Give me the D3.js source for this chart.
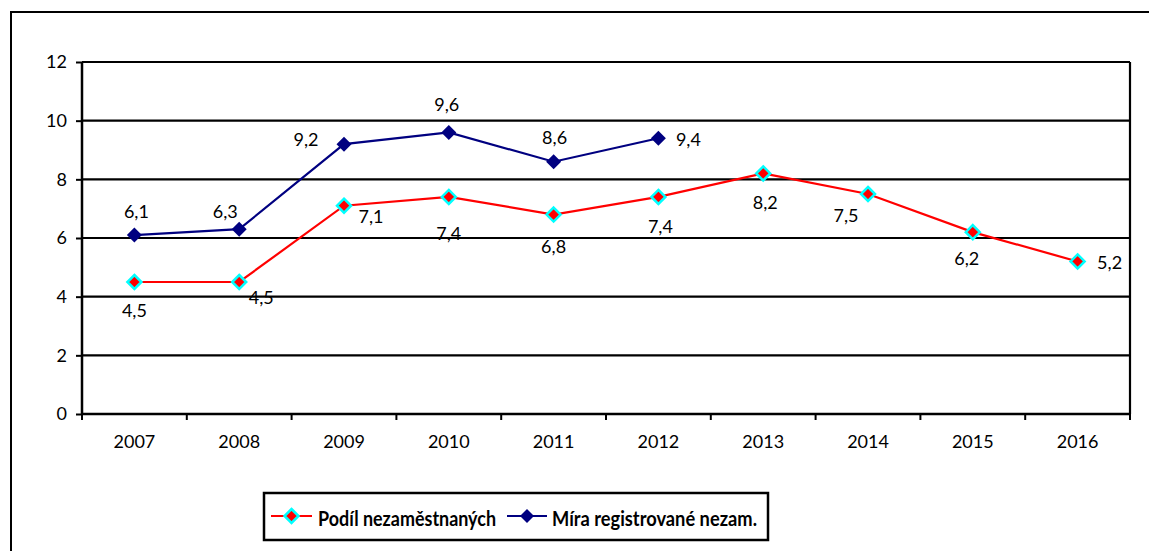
<!DOCTYPE html>
<html>
<head>
<meta charset="utf-8">
<script src="https://cdn.jsdelivr.net/npm/d3@7"></script>
<style>
  html, body { margin: 0; padding: 0; background: #fff; }
  svg { display: block; }
  text { font-family: Lato, "Open Sans", sans-serif; fill: #000; }
</style>
</head>
<body>
<script>
const years = ["2007","2008","2009","2010","2011","2012","2013","2014","2015","2016"];
const podil = [4.5, 4.5, 7.1, 7.4, 6.8, 7.4, 8.2, 7.5, 6.2, 5.2];
const mira = [6.1, 6.3, 9.2, 9.6, 8.6, 9.4, null, null, null, null];
const yTicks = [0, 2, 4, 6, 8, 10, 12];
const seriesNames = ["Podíl nezaměstnaných", "Míra registrované nezam."];
// label offsets (dx, dy) relative to marker
const podilOff = [[0,28],[22,15],[27,10],[0,36],[0,31],[2,29],[2,29],[-22,21],[-6,26],[32,1]];
const miraOff = [[2,-24],[-14,-18],[-38,-5],[-2,-28],[1,-25],[30,1]];

const W = 1149, H = 551;
const svg = d3.select("body").append("svg").attr("width", W).attr("height", H);

// outer frame
svg.append("rect").attr("x", 11).attr("y", 12).attr("width", 1160).attr("height", 600)
  .attr("fill", "none").attr("stroke", "#000").attr("stroke-width", 2);

const L = 82, R = 1130, T = 62, B = 414;
const x = d3.scaleBand().domain(years).range([L, R]).padding(0);
const y = d3.scaleLinear().domain([0, 12]).range([B, T]);
const cx = d => x(d) + x.bandwidth() / 2;

// gridlines
svg.append("g").selectAll("line").data(yTicks).join("line")
  .attr("x1", L).attr("x2", R).attr("y1", d => y(d)).attr("y2", d => y(d))
  .attr("stroke", "#000").attr("stroke-width", 2.2);
// right border
svg.append("line").attr("x1", R).attr("x2", R).attr("y1", T).attr("y2", B)
  .attr("stroke", "#000").attr("stroke-width", 2.2);

// y axis
const yAxis = svg.append("g").attr("transform", `translate(${L},0)`)
  .call(d3.axisLeft(y).tickValues(yTicks).tickSize(6).tickPadding(9).tickFormat(d3.format("d")));
yAxis.select(".domain").attr("stroke", "#000").attr("stroke-width", 2.5).attr("d", `M0,${T}V${B}`);
yAxis.selectAll(".tick line").attr("stroke", "#000").attr("stroke-width", 2);
yAxis.selectAll(".tick text").style("font-family", "Lato").style("font-size", "18px").attr("fill", "#000");

// x axis
const xAxis = svg.append("g").attr("transform", `translate(0,${B})`)
  .call(d3.axisBottom(x).tickSize(0).tickPadding(21));
xAxis.select(".domain").attr("stroke", "#000").attr("stroke-width", 2.5).attr("d", `M${L},0H${R}`);
xAxis.selectAll(".tick text").style("font-family", "Lato").style("font-size", "18px").attr("fill", "#000");
// ticks at category boundaries
const bounds = years.map(d => x(d)).concat([R]);
svg.append("g").selectAll("line").data(bounds).join("line")
  .attr("x1", d => d).attr("x2", d => d).attr("y1", B).attr("y2", B + 6)
  .attr("stroke", "#000").attr("stroke-width", 2);

// lines
const line = d3.line().defined(d => d.v != null).x(d => cx(d.k)).y(d => y(d.v));
const podilData = years.map((k, i) => ({k, v: podil[i], i}));
const miraData = years.map((k, i) => ({k, v: mira[i], i})).filter(d => d.v != null);

svg.append("path").datum(podilData).attr("d", line)
  .attr("fill", "none").attr("stroke", "#ff0000").attr("stroke-width", 2.2);
svg.append("path").datum(miraData).attr("d", line)
  .attr("fill", "none").attr("stroke", "#000080").attr("stroke-width", 2.2);

const diamond = s => `M0,${-s}L${s},0L0,${s}L${-s},0Z`;

// markers
svg.append("g").selectAll("path").data(podilData).join("path")
  .attr("transform", d => `translate(${cx(d.k)},${y(d.v)})`)
  .attr("d", diamond(7)).attr("fill", "#ff0000").attr("stroke", "#00ffff").attr("stroke-width", 2.5);
svg.append("g").selectAll("path").data(miraData).join("path")
  .attr("transform", d => `translate(${cx(d.k)},${y(d.v)})`)
  .attr("d", diamond(7.5)).attr("fill", "#000080");

const fmt = v => String(v).replace(".", ",");
// labels
svg.append("g").selectAll("text").data(podilData).join("text")
  .attr("x", d => cx(d.k) + podilOff[d.i][0]).attr("y", d => y(d.v) + podilOff[d.i][1])
  .attr("text-anchor", "middle").attr("dominant-baseline", "central")
  .style("font-size", "18px").text(d => fmt(d.v));
svg.append("g").selectAll("text").data(miraData).join("text")
  .attr("x", d => cx(d.k) + miraOff[d.i][0]).attr("y", d => y(d.v) + miraOff[d.i][1])
  .attr("text-anchor", "middle").attr("dominant-baseline", "central")
  .style("font-size", "18px").text(d => fmt(d.v));

// legend
const lg = svg.append("g");
lg.append("rect").attr("x", 264).attr("y", 493).attr("width", 504).attr("height", 47)
  .attr("fill", "#fff").attr("stroke", "#000").attr("stroke-width", 2.5);
const legendItems = [
  {name: seriesNames[0], color: "#ff0000", fill: "#ff0000", stroke: "#00ffff", x0: 271, x1: 312, tx: 318, tw: 178},
  {name: seriesNames[1], color: "#000080", fill: "#000080", stroke: "none", x0: 507, x1: 547, tx: 552, tw: 205}
];
const ly = 516;
legendItems.forEach(it => {
  lg.append("line").attr("x1", it.x0).attr("x2", it.x1).attr("y1", ly).attr("y2", ly)
    .attr("stroke", it.color).attr("stroke-width", 2.2);
  lg.append("path").attr("transform", `translate(${(it.x0 + it.x1) / 2},${ly})`)
    .attr("d", diamond(7)).attr("fill", it.fill).attr("stroke", it.stroke).attr("stroke-width", 2.5);
  lg.append("text").attr("x", it.tx).attr("y", ly + 1).attr("dominant-baseline", "central")
    .attr("textLength", it.tw).attr("lengthAdjust", "spacingAndGlyphs")
    .style("font-size", "21px").style("font-weight", "bold").text(it.name);
});
</script>
</body>
</html>
